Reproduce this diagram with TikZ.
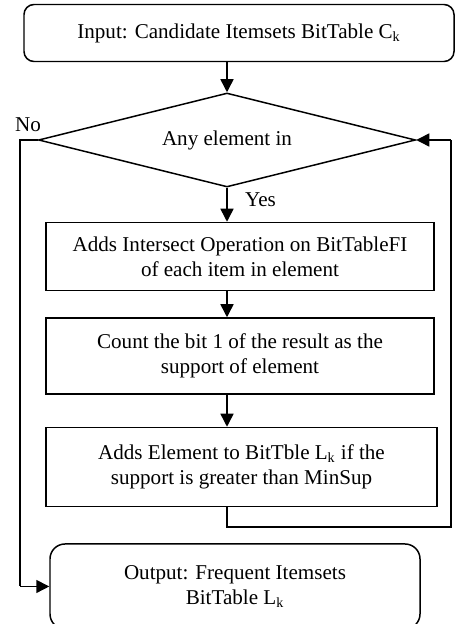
\documentclass[tikz,border=0pt]{standalone}
\usepackage{fontspec}
\setmainfont{Liberation Serif}
\usetikzlibrary{positioning, arrows.meta, shapes.geometric}
\tikzset{
	arrow/.style={
		draw=black,
		line width=0.85pt,
		-{Triangle[width=0.26cm,length=0.26cm]}
    },
	line/.style={
		draw=black,
		line width=0.85pt
    },
	stepbox/.style={
		draw=black,
		rectangle,
		line width=0.85pt,
		align=center,
		text=black,
		font=\fontsize{12}{14.2}\selectfont
    },
}

\begin{document}
\begin{tikzpicture}

\useasboundingbox (0,0) rectangle (9.1,-12.48);

% Decision
\node[
	draw=black,
	diamond,
	shape aspect=4,
	line width=0.85pt,
	minimum width=7.54cm,
	minimum height=1.88cm,
	inner sep=0pt,
	font=\fontsize{12}{14.2}\selectfont
] (Any) at (4.54,-2.8) {Any element in};

% Input
\node[stepbox,rounded corners=0.2cm,minimum width=8.6cm,minimum height=1.14cm,above = 0.6cm of Any,xshift=0.24cm] (In) {Input: Candidate Itemsets BitTable C\textsubscript{k}};

% Steps
\node[stepbox,minimum width=7.76cm,minimum height=1.36cm,below = 0.68cm of Any,xshift=0.26cm] (Inter) {Adds Intersect Operation on BitTableFI\\of each item in element};
\node[stepbox,minimum width=7.76cm,minimum height=1.52cm,below = 0.52cm of Inter] (Count) {Count the bit 1 of the result as the\\support of element};
\node[stepbox,minimum width=7.82cm,minimum height=1.58cm,below = 0.64cm of Count,xshift=0.03cm] (Add) {Adds Element to BitTble L\textsubscript{k} if the\\support is greater than MinSup};

% Output
\node[stepbox,rounded corners=0.3cm,minimum width=7.4cm,minimum height=1.7cm,below = 0.72cm of Add,xshift=-0.13cm] (Out) {Output: Frequent Itemsets\\BitTable L\textsubscript{k}};

% Labels
\node[font=\fontsize{12}{14.2}\selectfont] (No) at (0.56,-2.5) {No};
\node[font=\fontsize{12}{14.2}\selectfont,below right = -0.02cm and 0.24cm of Any.south] (Yes) {Yes};

% Loop points
\coordinate (LoopA) at ([yshift=-0.4cm]Any.south |- Add.south);
\coordinate (LoopB) at (9.02,0 |- LoopA);
\coordinate (NoA) at (0.4,0 |- Any.west);

% Arrows
\draw [arrow] (In.south -| Any.north) -- (Any.north);
\draw [arrow] (Any.south) -- (Any.south |- Inter.north);
\draw [arrow] (Any.south |- Inter.south) -- (Any.south |- Count.north);
\draw [arrow] (Any.south |- Count.south) -- (Any.south |- Add.north);
\draw [line] (Any.south |- Add.south) -- (LoopA) -- (LoopB) -- (LoopB |- Any.east);
\draw [arrow] (LoopB |- Any.east) -- (Any.east);
\draw [line] (Any.west) -- (NoA) -- (NoA |- Out.west);
\draw [arrow] (NoA |- Out.west) -- (Out.west);

\end{tikzpicture}
\end{document}
